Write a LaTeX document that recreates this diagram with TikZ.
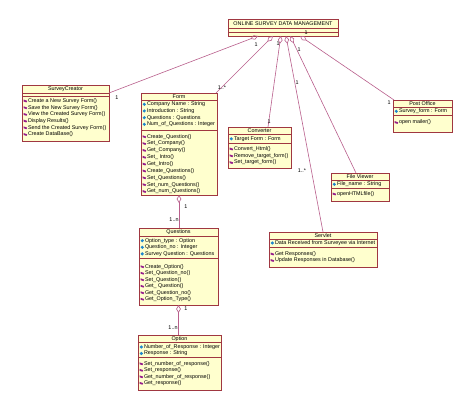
\documentclass[tikz,border=0pt]{standalone}
\usepackage{fontspec}
\setmainfont{Liberation Sans}
\usetikzlibrary{calc,arrows.meta}
\definecolor{boxfill}{RGB}{255,255,206}
\definecolor{boxline}{RGB}{160,55,65}
\definecolor{conn}{RGB}{185,95,140}
\definecolor{attrcol}{RGB}{30,135,205}
\definecolor{methcol}{RGB}{150,30,140}
\newcounter{tn}
\newcommand\smallfs{\fontsize{5.4}{6}\selectfont}
\newcommand\umlclass[7]{%
  \node[cls, minimum width=#4pt, minimum height=#5pt] (#1) at (#2,#3) {};
  \draw[divl] ($(#1.north west)+(0,#6)$) -- ($(#1.north east)+(0,#6)$);
  \draw[divl] ($(#1.north west)+(0,#7)$) -- ($(#1.north east)+(0,#7)$);}
\newcommand\umlttl[3]{\node[ttl] (#1-ttl) at ($(#1.north)+(0,#2)$) {#3};}
\newcommand\umlattr[3]{\stepcounter{tn}%
  \fill[attrcol] ($(#1.north west)+(1.6,#2)$) -- ++(1.7,-1.7) -- ++(1.7,1.7) -- ++(-1.7,1.7) -- cycle;
  \node[mem] (m\arabic{tn}) at ($(#1.north west)+(5.8,#2)$) {#3};}
\newcommand\umlmeth[3]{\stepcounter{tn}%
  \fill[methcol] ($(#1.north west)+(1.6,#2)+(0,-1.4)$) -- ++(3.6,1.2) -- ++(-0.7,1.6) -- ++(-2.9,-0.9) -- cycle;
  \node[mem] (m\arabic{tn}) at ($(#1.north west)+(5.8,#2)$) {#3};}
\begin{document}
\begin{tikzpicture}[x=1pt,y=-1pt,
  cls/.style={draw=boxline, fill=boxfill, line width=0.6pt, anchor=north west, inner sep=0pt, outer sep=0pt},
  divl/.style={draw=boxline, line width=0.5pt},
  mem/.style={font=\smallfs, anchor=west, inner sep=0pt},
  ttl/.style={font=\smallfs, inner sep=0pt},
  lbl/.style={font=\smallfs, inner sep=0pt},
  agg/.style={draw=conn, line width=0.6pt, {Diamond[open, length=8pt, width=4.6pt]}-}]
\fill[white] (0,0) rectangle (474,411);
\useasboundingbox (0,0) rectangle (474,411);

% top class
\umlclass{odm}{228}{19}{110}{17}{9}{13}
\umlttl{odm}{4.6}{ONLINE SURVEY DATA MANAGEMENT}

% SurveyCreator
\umlclass{sc}{22}{85}{87}{56}{8}{11}
\umlttl{sc}{4}{SurveyCreator}
\umlmeth{sc}{16}{Create a New Survey Form()}
\umlmeth{sc}{22.7}{Save the New Survey Form()}
\umlmeth{sc}{29.4}{View the Created Survey Form()}
\umlmeth{sc}{36.1}{Display Results()}
\umlmeth{sc}{42.8}{Send the Created Survey Form()}
\umlmeth{sc}{49.5}{Create DataBase()}

% Form
\umlclass{form}{141}{93}{76}{102}{7}{37}
\umlttl{form}{3.6}{Form}
\umlattr{form}{11.3}{Company Name : String}
\umlattr{form}{18}{Introduction : String}
\umlattr{form}{24.7}{Questions : Questions}
\umlattr{form}{31.3}{Num\_of\_Questions : Integer}
\umlmeth{form}{43.7}{Create\_Question()}
\umlmeth{form}{50.55}{Set\_Company()}
\umlmeth{form}{57.4}{Get\_Company()}
\umlmeth{form}{64.25}{Set\_ Intro()}
\umlmeth{form}{71.1}{Get\_Intro()}
\umlmeth{form}{77.95}{Create\_Questions()}
\umlmeth{form}{84.8}{Set\_Questions()}
\umlmeth{form}{91.65}{Set\_num\_Questions()}
\umlmeth{form}{98.5}{Get\_num\_Questions()}

% Converter
\umlclass{conv}{228}{127}{63}{41}{7}{16.5}
\umlttl{conv}{3.6}{Converter}
\umlattr{conv}{11.8}{Target Form : Form}
\umlmeth{conv}{22}{Convert\_Html()}
\umlmeth{conv}{28.8}{Remove\_target\_form()}
\umlmeth{conv}{35.6}{Set\_target\_form()}

% Post Office
\umlclass{post}{393}{100}{59}{32}{7.5}{15}
\umlttl{post}{3.8}{Post Office}
\umlattr{post}{11.3}{Survey\_form : Form}
\umlmeth{post}{22.5}{open mailer()}

% File Viewer
\umlclass{fv}{331}{173}{58}{28}{7.5}{15}
\umlttl{fv}{3.8}{File Viewer}
\umlattr{fv}{11.3}{File\_name : String}
\umlmeth{fv}{21}{openHTMLfile()}

% Servlet
\umlclass{serv}{269}{232}{108}{35}{7}{15}
\umlttl{serv}{3.6}{Servlet}
\umlattr{serv}{11}{Data Received from Surveyee via Internet}
\umlmeth{serv}{22}{Get Responses()}
\umlmeth{serv}{28.5}{Update Responses in Database()}

% Questions
\umlclass{ques}{139}{228}{79}{77}{8}{30.5}
\umlttl{ques}{4}{Questions}
\umlattr{ques}{12.7}{Option\_type : Option}
\umlattr{ques}{19.3}{Question\_no : Integer}
\umlattr{ques}{25.9}{Survey Question : Questions}
\umlmeth{ques}{38.7}{Create\_Option()}
\umlmeth{ques}{45.2}{Set\_Question\_no()}
\umlmeth{ques}{51.7}{Set\_Question()}
\umlmeth{ques}{58.2}{Get\_ Question()}
\umlmeth{ques}{64.7}{Get\_Question\_no()}
\umlmeth{ques}{71.2}{Get\_Option\_Type()}

% Option
\umlclass{opt}{138}{335}{83}{55}{7.5}{22.5}
\umlttl{opt}{3.8}{Option}
\umlattr{opt}{12}{Number\_of\_Response : Integer}
\umlattr{opt}{18.5}{Response : String}
\umlmeth{opt}{28.8}{Set\_number\_of\_response()}
\umlmeth{opt}{35.3}{Set\_response()}
\umlmeth{opt}{41.8}{Get\_number\_of\_response()}
\umlmeth{opt}{48.3}{Get\_response()}

% aggregations
\draw[agg] ($(odm.south west)!0.273!(odm.south east)$) -- ($(sc.north east)+(0,8)$);
\draw[agg] ($(odm.south west)!0.409!(odm.south east)$) -- ($(form.north east)+(-1,0)$);
\draw[agg] ($(odm.south west)!0.48!(odm.south east)$) -- ($(conv.north)+(8.5,0)$);
\draw[agg] ($(odm.south west)!0.527!(odm.south east)$) -- (serv.north);
\draw[agg] ($(odm.south west)!0.566!(odm.south east)$) -- ($(fv.north)+(-4,0)$);
\draw[agg] ($(odm.south west)!0.655!(odm.south east)$) -- ($(post.north west)+(1,0)$);
\draw[agg] (form.south) -- (ques.north -| form.south);
\draw[agg] (ques.south) -- (opt.north -| ques.south);

% multiplicities
\node[lbl] (l1) at (256,45) {1};
\node[lbl] (l2) at (117,98) {1};
\node[lbl] (l3) at (278,44) {1};
\node[lbl] (l4) at (222,88) {1..*};
\node[lbl] (l5) at (269,122) {1};
\node[lbl] (l6) at (297,83) {1};
\node[lbl] (l7) at (302,171) {1..*};
\node[lbl] (l8) at (299,50) {1};
\node[lbl] (l9) at (306,33) {1};
\node[lbl] (l10) at (389,103) {1};
\node[lbl] (l11) at (186,207) {1};
\node[lbl] (l12) at (174,220) {1..n};
\node[lbl] (l13) at (186,309) {1};
\node[lbl] (l14) at (173,328) {1..n};
\end{tikzpicture}
\end{document}
